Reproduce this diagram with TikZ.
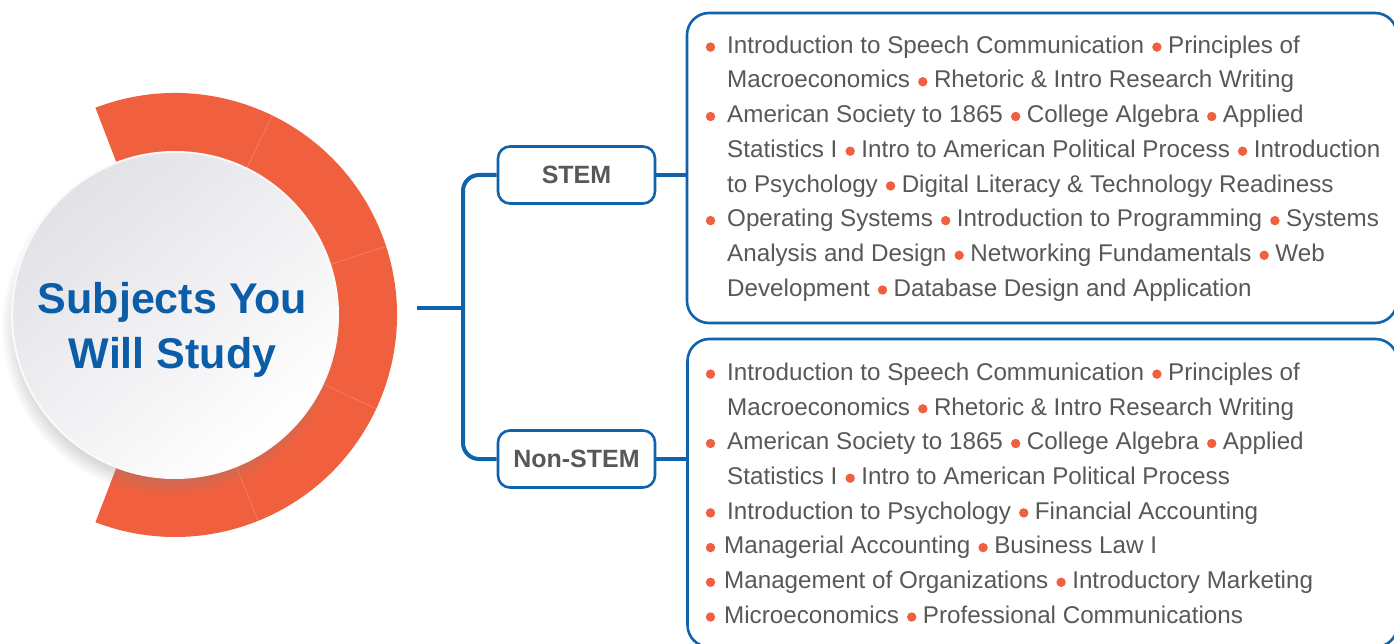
\documentclass[tikz,border=0pt]{standalone}
\usepackage{fontspec}
\setmainfont{Liberation Sans}
\usetikzlibrary{shadows,calc}
\definecolor{ringor}{HTML}{F1603E}
\definecolor{linkblue}{HTML}{0F62AC}
\definecolor{txtgray}{HTML}{585858}
\definecolor{titleblue}{HTML}{0C5DA8}
\definecolor{disc}{HTML}{E2E2E7}
\newcommand\bul{\hspace{8pt}\tikz[baseline=0pt]\fill[ringor] (0pt,6.2pt) circle[radius=4.7pt];\hspace{6.5pt}}
\tikzset{
  conn/.style={draw=linkblue, line width=4},
  catbox/.style={draw=linkblue, line width=2.6, rounded corners=12, minimum width=157, minimum height=57, inner sep=0, text=txtgray, font=\bfseries\fontsize{25}{25}\selectfont},
  bigbox/.style={draw=linkblue, line width=2.6, rounded corners=22, inner sep=0, minimum width=710},
  body/.style={font=\fontsize{24.2}{24}\selectfont, text=txtgray, anchor=base west, inner sep=0},
  divider/.style={draw=white, opacity=0.2, line width=0.7},
  leadbul/.style={fill=ringor}
}
\begin{document}
\begin{tikzpicture}[x=1pt,y=-1pt]
\useasboundingbox (0,0) rectangle (1394,644);
\fill[white] (0,0) rectangle (1394,644);
% ring
\coordinate (C) at (175,315);
\fill[ringor] ($(C)+(-111:222)$) arc[start angle=-111,end angle=111,radius=222]
  -- ($(C)+(111:150)$) arc[start angle=111,end angle=-111,radius=150] -- cycle;
\foreach \a in {-64,-18,25,68}
  \draw[divider] ($(C)+(\a:150)$) -- ($(C)+(\a:222)$);
% central disc
\node[circle, minimum size=326, inner sep=0, draw=white!96!gray, line width=2,
      top color=disc, bottom color=white, shading angle=40,
      circular drop shadow={shadow xshift=-4pt, shadow yshift=-11pt, shadow scale=1.04, opacity=0.45}] (core) at (C) {};
\node[font=\bfseries\fontsize{43}{55}\selectfont, text=titleblue, align=center] (title) at (172.5,329.5) {Subjects You\\Will Study};
% category boxes
\node[catbox] (stem) at (576.5,175) {STEM};
\node[catbox] (nonstem) at (576.5,459) {Non-STEM};
% big boxes
\node[bigbox, minimum height=310] (box1) at (1042,168) {};
\node[bigbox, minimum height=308] (box2) at (1042.5,493) {};
% connectors
\coordinate (c0) at (417,308);
\coordinate (hub) at (463,308);
\draw[conn] (c0) -- (hub);
\draw[conn, rounded corners=16] (stem.west) -| (hub) |- (nonstem.west);
\draw[conn] (stem.east) -- (stem.east -| box1.west);
\draw[conn] (nonstem.east) -- (nonstem.east -| box2.west);
% STEM list
\fill[leadbul] (710.5,47.1) circle[radius=4.7pt];
\node[body] (s1) at (727,53.3) {Introduction to Speech Communication\bul Principles of};
\node[body] (s2) at (727,88.0) {Macroeconomics\bul Rhetoric \& Intro Research Writing};
\fill[leadbul] (710.5,116.5) circle[radius=4.7pt];
\node[body] (s3) at (727,122.7) {American Society to 1865\bul College Algebra\bul Applied};
\node[body] (s4) at (727,157.4) {Statistics I\bul Intro to American Political Process\bul Introduction};
\node[body] (s5) at (727,192.1) {to Psychology\bul Digital Literacy \& Technology Readiness};
\fill[leadbul] (710.5,220.6) circle[radius=4.7pt];
\node[body] (s6) at (727,226.8) {Operating Systems\bul Introduction to Programming\bul Systems};
\node[body] (s7) at (727,261.5) {Analysis and Design\bul Networking Fundamentals\bul Web};
\node[body] (s8) at (727,296.2) {Development\bul Database Design and Application};
% Non-STEM list
\fill[leadbul] (710.5,374.1) circle[radius=4.7pt];
\node[body] (n1) at (727,380.3) {Introduction to Speech Communication\bul Principles of};
\node[body] (n2) at (727,415.0) {Macroeconomics\bul Rhetoric \& Intro Research Writing};
\fill[leadbul] (710.5,443.5) circle[radius=4.7pt];
\node[body] (n3) at (727,449.7) {American Society to 1865\bul College Algebra\bul Applied};
\node[body] (n4) at (727,484.4) {Statistics I\bul Intro to American Political Process};
\fill[leadbul] (710.5,512.9) circle[radius=4.7pt];
\node[body] (n5) at (727,519.1) {Introduction to Psychology\bul Financial Accounting};
\fill[leadbul] (710.5,547.6) circle[radius=4.7pt];
\node[body] (n6) at (724,553.8) {Managerial Accounting\bul Business Law I};
\fill[leadbul] (710.5,582.3) circle[radius=4.7pt];
\node[body] (n7) at (724,588.5) {Management of Organizations\bul Introductory Marketing};
\fill[leadbul] (710.5,617.0) circle[radius=4.7pt];
\node[body] (n8) at (724,623.2) {Microeconomics\bul Professional Communications};
\end{tikzpicture}
\end{document}
